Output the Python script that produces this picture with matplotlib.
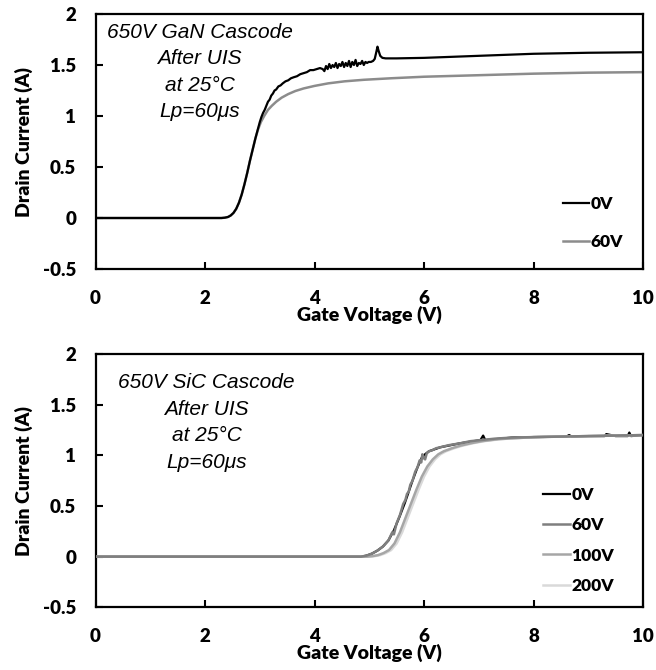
import matplotlib
matplotlib.use("Agg")
import matplotlib.pyplot as plt

# ---- GaN cascode transfer curves (after UIS) ----
gan_v_60 = [0, 2.30, 2.36, 2.42, 2.47, 2.52, 2.57, 2.62, 2.67, 2.72, 2.77,
            2.82, 2.87, 2.92, 2.97, 3.02, 3.08, 3.15, 3.22, 3.30, 3.40, 3.52,
            3.65, 3.80, 4.00, 4.25, 4.55, 4.90, 5.40, 6.0, 7.0, 8.0, 9.0, 10.0]
gan_i_60 = [0, 0, 0.003, 0.010, 0.025, 0.05, 0.09, 0.15, 0.23, 0.33, 0.44,
            0.56, 0.67, 0.78, 0.87, 0.94, 1.00, 1.06, 1.10, 1.14, 1.18, 1.215,
            1.245, 1.27, 1.295, 1.32, 1.34, 1.355, 1.37, 1.385, 1.40, 1.415, 1.425, 1.43]

gan_v_0 = [0, 2.30, 2.36, 2.42, 2.47, 2.52, 2.57, 2.62, 2.67, 2.72, 2.77,
           2.82, 2.87, 2.92, 2.97, 3.00, 3.03, 3.06, 3.09, 3.12, 3.15, 3.18,
           3.21, 3.24, 3.27, 3.30, 3.34, 3.38, 3.42, 3.47, 3.52, 3.57, 3.62,
           3.68, 3.74, 3.80, 3.86, 3.92, 3.98, 4.04, 4.10, 4.15, 4.18, 4.21,
           4.24, 4.27, 4.30, 4.33, 4.36, 4.39, 4.42, 4.45, 4.48, 4.51, 4.54,
           4.57, 4.60, 4.63, 4.66, 4.69, 4.72, 4.75, 4.78, 4.81, 4.84, 4.87,
           4.90, 4.93, 4.96, 4.99, 5.03, 5.07, 5.10, 5.13, 5.15, 5.17, 5.20,
           5.24, 5.30, 5.5, 6.0, 7.0, 8.0, 9.0, 10.0]
gan_i_0 = [0, 0, 0.003, 0.010, 0.025, 0.05, 0.09, 0.15, 0.23, 0.33, 0.44,
           0.56, 0.67, 0.78, 0.88, 0.94, 0.99, 1.03, 1.06, 1.10, 1.14, 1.16,
           1.20, 1.22, 1.25, 1.26, 1.29, 1.30, 1.32, 1.34, 1.35, 1.37, 1.38,
           1.39, 1.41, 1.42, 1.43, 1.45, 1.45, 1.46, 1.47, 1.46, 1.44, 1.49,
           1.46, 1.51, 1.47, 1.50, 1.48, 1.52, 1.47, 1.51, 1.49, 1.53, 1.48,
           1.52, 1.49, 1.54, 1.48, 1.53, 1.50, 1.55, 1.49, 1.52, 1.51, 1.54,
           1.50, 1.53, 1.52, 1.53, 1.53, 1.54, 1.56, 1.63, 1.68, 1.64, 1.59,
           1.57, 1.565, 1.565, 1.57, 1.59, 1.61, 1.62, 1.625]

# ---- SiC cascode transfer curves (after UIS) ----
sic_v_60 = [0, 4.85, 4.95, 5.05, 5.15, 5.25, 5.35, 5.42, 5.45, 5.50, 5.56,
            5.62, 5.66, 5.69, 5.72, 5.75, 5.79, 5.84, 5.88, 5.92, 5.95, 5.97,
            6.00, 6.02, 6.05, 6.09, 6.15, 6.22, 6.30, 6.45, 6.67, 6.85, 7.03,
            7.30, 7.60, 8.0, 9.0, 10.0]
sic_i_60 = [0, 0, 0.01, 0.03, 0.06, 0.10, 0.16, 0.24, 0.22, 0.33, 0.41,
            0.52, 0.56, 0.62, 0.64, 0.71, 0.75, 0.84, 0.88, 0.95, 0.93, 1.01,
            0.97, 0.96, 1.02, 1.04, 1.05, 1.07, 1.08, 1.10, 1.12, 1.14, 1.15,
            1.165, 1.175, 1.18, 1.19, 1.20]

sic_v_0 = [0, 4.85, 4.95, 5.05, 5.15, 5.25, 5.35, 5.45, 5.55, 5.65, 5.79,
           5.88, 5.97, 6.09, 6.30, 6.67, 7.03, 7.08, 7.12, 7.60, 8.0, 8.6,
           8.65, 8.70, 9.0, 9.30, 9.33, 9.5, 9.72, 9.75, 9.78, 10.0]
sic_i_0 = [0, 0, 0.01, 0.03, 0.06, 0.10, 0.16, 0.26, 0.39, 0.53, 0.75,
           0.88, 0.99, 1.04, 1.08, 1.12, 1.15, 1.195, 1.15, 1.175, 1.18, 1.185,
           1.20, 1.185, 1.19, 1.19, 1.21, 1.19, 1.19, 1.225, 1.19, 1.20]

sic_v_100 = [0, 4.96, 5.06, 5.16, 5.26, 5.36, 5.46, 5.56, 5.66, 5.76, 5.86,
             5.96, 6.06, 6.16, 6.26, 6.36, 6.51, 6.66, 6.86, 7.06, 7.36, 7.70,
             8.0, 9.0, 10.0]
sic_i_100 = [0, 0, 0.005, 0.015, 0.035, 0.065, 0.13, 0.24, 0.38, 0.52, 0.66,
             0.79, 0.89, 0.96, 1.01, 1.04, 1.07, 1.095, 1.12, 1.14, 1.16, 1.17,
             1.18, 1.19, 1.20]

sic_v_200 = [0, 5.0, 5.1, 5.2, 5.3, 5.4, 5.5, 5.6, 5.7, 5.8, 5.9, 6.0, 6.1,
             6.2, 6.3, 6.4, 6.55, 6.7, 6.9, 7.1, 7.4, 7.7, 8.0, 9.0, 10.0]
sic_i_200 = [0, 0, 0.005, 0.015, 0.035, 0.065, 0.13, 0.24, 0.38, 0.52, 0.66,
             0.79, 0.89, 0.96, 1.01, 1.04, 1.07, 1.095, 1.12, 1.14, 1.16, 1.17,
             1.18, 1.19, 1.20]

x_ticks = [0, 2, 4, 6, 8, 10]
y_ticks = [-0.5, 0, 0.5, 1, 1.5, 2]
y_ticklabels = ["-0.5", "0", "0.5", "1", "1.5", "2"]

tick_font = {"family": "Lato", "weight": 800}
note_font = {"family": "Liberation Sans", "style": "italic"}
legend_prop = {"family": "Lato", "weight": 800, "size": 12.5}

fig = plt.figure(figsize=(6.56, 6.70), dpi=100)
ax_top = fig.add_axes([0.1456, 0.5985, 0.8346, 0.3806])
ax_bot = fig.add_axes([0.1456, 0.0936, 0.8346, 0.378])


def style_axes(ax):
    ax.set_xlim(0, 10)
    ax.set_ylim(-0.5, 2)
    ax.set_xticks(x_ticks)
    ax.set_yticks(y_ticks)
    ax.set_xticklabels([str(t) for t in x_ticks], fontdict=tick_font, fontsize=13.5)
    ax.set_yticklabels(y_ticklabels, fontdict=tick_font, fontsize=13.5)
    ax.tick_params(axis="x", direction="in", length=5, width=1.5, pad=15, top=False)
    ax.tick_params(axis="y", direction="in", length=5, width=1.5, pad=14, right=False)
    for sp in ax.spines.values():
        sp.set_linewidth(1.6)
    ax.set_xlabel("Gate Voltage (V)", fontdict=tick_font, fontsize=14, labelpad=-1)
    ax.set_ylabel("Drain Current (A)", fontdict=tick_font, fontsize=14, labelpad=7)


# GaN panel
ax_top.plot(gan_v_0, gan_i_0, color="black", lw=1.6, label="0V", zorder=3)
ax_top.plot(gan_v_60, gan_i_60, color="#8c8c8c", lw=1.8, label="60V", zorder=2)
style_axes(ax_top)
ax_top.text(0.19, 0.965, "650V GaN Cascode\nAfter UIS\nat 25\u00b0C\nLp=60\u03bcs",
            transform=ax_top.transAxes, ha="center", va="top",
            multialignment="center", fontsize=15, linespacing=1.5, **note_font)
ax_top.legend(loc="upper left", bbox_to_anchor=(0.853, 0.285), frameon=False,
              prop=legend_prop, handlelength=1.55, handletextpad=0.05,
              labelspacing=1.25, borderpad=0, borderaxespad=0)

# SiC panel
ax_bot.plot(sic_v_0, sic_i_0, color="black", lw=1.6, label="0V", zorder=1)
ax_bot.plot(sic_v_60, sic_i_60, color="#7f7f7f", lw=1.8, label="60V", zorder=4)
ax_bot.plot(sic_v_100, sic_i_100, color="#a6a6a6", lw=1.8, label="100V", zorder=3)
ax_bot.plot(sic_v_200, sic_i_200, color="#d9d9d9", lw=1.8, label="200V", zorder=2)
style_axes(ax_bot)
ax_bot.text(0.203, 0.925, "650V SiC Cascode\nAfter UIS\nat 25\u00b0C\nLp=60\u03bcs",
            transform=ax_bot.transAxes, ha="center", va="top",
            multialignment="center", fontsize=15, linespacing=1.5, **note_font)
ax_bot.legend(loc="upper left", bbox_to_anchor=(0.818, 0.476), frameon=False,
              prop=legend_prop, handlelength=1.55, handletextpad=0.05,
              labelspacing=0.83, borderpad=0, borderaxespad=0)

fig.savefig("out.png", dpi=100)
